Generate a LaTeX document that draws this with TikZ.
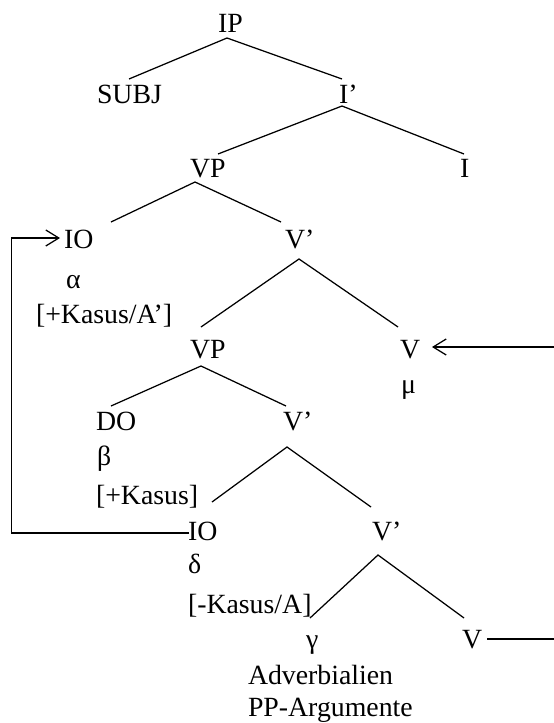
\documentclass[tikz,border=0pt]{standalone}
\usepackage{fontspec}
\setmainfont{Liberation Serif}
\usetikzlibrary{arrows.meta}
\tikzset{
  lbl/.style={anchor=base west, inner sep=0pt, outer sep=0pt, font=\fontsize{27.8}{32}\selectfont},
  branch/.style={line width=1.25pt},
  move/.style={line width=1.25pt, -{Straight Barb[length=13pt,width=16pt,line width=1.25pt]}},
}
\begin{document}
\begin{tikzpicture}[x=1pt,y=-1pt]
\useasboundingbox (0,0) rectangle (554,723);
% labels
\node[lbl] (IP) at (218,32) {IP};
\node[lbl] (SUBJ) at (97,103) {SUBJ};
\node[lbl] (Ib) at (339,103) {I’};
\node[lbl] (VP1) at (190,177) {VP};
\node[lbl] (I) at (460,177) {I};
\node[lbl] (IO1) at (64,248) {IO};
\node[lbl] (Vb1) at (285,248) {V’};
\node[lbl] (alpha) at (66,288) {α};
\node[lbl] (f1) at (36,323) {[+Kasus/A’]};
\node[lbl] (VP2) at (190,358) {VP};
\node[lbl] (V1) at (400,358) {V};
\node[lbl] (mu) at (401,393) {μ};
\node[lbl] (DO) at (96,430) {DO};
\node[lbl] (Vb2) at (283,430) {V’};
\node[lbl] (beta) at (97,465) {β};
\node[lbl] (f2) at (96,504) {[+Kasus]};
\node[lbl] (IO2) at (188,540) {IO};
\node[lbl] (Vb3) at (372,540) {V’};
\node[lbl] (delta) at (188,573) {δ};
\node[lbl] (f3) at (188,613) {[-Kasus/A]};
\node[lbl] (gamma) at (306,648) {γ};
\node[lbl] (V2) at (462,648) {V};
\node[lbl] (adv) at (248,684) {Adverbialien};
\node[lbl] (pp) at (248,716.5) {PP-Argumente};
% branch ends
\coordinate (IP-d) at (227,38);
\coordinate (SUBJ-u) at (129,79);
\coordinate (Ib-u) at (342,79);
\coordinate (Ib-d) at (342,106);
\coordinate (VP1-u) at (218,154);
\coordinate (I-u) at (464,154);
\coordinate (VP1-d) at (195,182);
\coordinate (IO1-u) at (111,222);
\coordinate (Vb1-u) at (281,222);
\coordinate (Vb1-d) at (299,259);
\coordinate (VP2-u) at (201,327);
\coordinate (V1-u) at (398,327);
\coordinate (VP2-d) at (201,366);
\coordinate (DO-u) at (111,406);
\coordinate (Vb2-u) at (286,406);
\coordinate (Vb2-d) at (287,447);
\coordinate (IO2-u) at (212,502);
\coordinate (Vb3-u) at (371,507);
\coordinate (Vb3-d) at (378,555);
\coordinate (gamma-u) at (310,618);
\coordinate (V2-u) at (464,618);
% tree branches
\draw[branch] (SUBJ-u) -- (IP-d) -- (Ib-u);
\draw[branch] (VP1-u) -- (Ib-d) -- (I-u);
\draw[branch] (IO1-u) -- (VP1-d) -- (Vb1-u);
\draw[branch] (VP2-u) -- (Vb1-d) -- (V1-u);
\draw[branch] (DO-u) -- (VP2-d) -- (Vb2-u);
\draw[branch] (IO2-u) -- (Vb2-d) -- (Vb3-u);
\draw[branch] (gamma-u) -- (Vb3-d) -- (V2-u);
% movement arrows
\coordinate (IO2-w) at (189,533);
\coordinate (IO1-w) at (60,238);
\draw[move] (IO2-w) -- (11.5,533) -- (11.5,238) -- (IO1-w);
\coordinate (V2-e) at (487,639);
\coordinate (V1-e) at (432,347);
\draw[move] (V2-e) -- (558,639) -- (558,347) -- (V1-e);
\end{tikzpicture}
\end{document}
